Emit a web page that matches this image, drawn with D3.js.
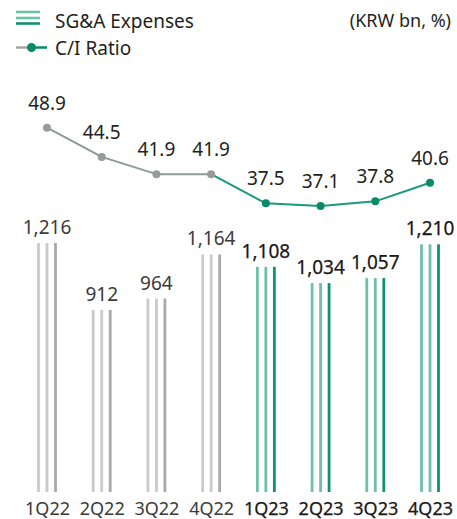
<!DOCTYPE html>
<html>
<head>
<meta charset="utf-8">
<script src="https://cdn.jsdelivr.net/npm/d3@7"></script>
<style>
  body { margin: 0; background: #fff; }
  text { font-family: "Noto Sans", sans-serif; }
</style>
</head>
<body>
<svg id="chart"></svg>
<script>
// chart data
const quarters = ["1Q22", "2Q22", "3Q22", "4Q22", "1Q23", "2Q23", "3Q23", "4Q23"];
const sgaExpenses = [1216, 912, 964, 1164, 1108, 1034, 1057, 1210];
const ciRatio = [48.9, 44.5, 41.9, 41.9, 37.5, 37.1, 37.8, 40.6];
const yearOf = ["2022", "2022", "2022", "2022", "2023", "2023", "2023", "2023"];

const dimen = { width: 457, height: 519 };

const svg = d3.select("#chart")
  .attr("width", dimen.width)
  .attr("height", dimen.height);

// x positions (band centres)
const x = d3.scalePoint()
  .domain(quarters)
  .range([47, 430]);

// bars: baseline sits at 492
const yBar = d3.scaleLinear()
  .domain([86, 1216])
  .range([492, 243]);

// line
const yLine = d3.scaleLinear()
  .domain([37.1, 48.9])
  .range([206, 127.7]);

// 2023 text is a touch heavier in the original -- fake it with a thin stroke
const palette = {
  "2022": { light: "#cacaca", dark: "#a9a9a9", text: "#3a3a3a", stroke: 0 },
  "2023": { light: "#6dc1a9", dark: "#0f9273", text: "#1a1718", stroke: 0.25 }
};

// each bar is drawn as three thin strokes
const stripes = [-8.5, 0, 8.5];
const barG = svg.append("g");
quarters.forEach((q, i) => {
  const p = palette[yearOf[i]];
  stripes.forEach((dx, k) => {
    barG.append("line")
      .attr("x1", x(q) + dx).attr("x2", x(q) + dx)
      .attr("y1", yBar(86)).attr("y2", yBar(sgaExpenses[i]))
      .attr("stroke", k === 2 ? p.dark : p.light)
      .attr("stroke-width", 2.8);
  });
});

barG.selectAll("text.val")
  .data(quarters)
  .enter().append("text")
  .attr("class", "val")
  .attr("x", d => x(d))
  .attr("y", (d, i) => yBar(sgaExpenses[i]) - 9)
  .attr("text-anchor", "middle")
  .attr("font-size", 19)
  .attr("fill", (d, i) => palette[yearOf[i]].text)
  .attr("stroke", (d, i) => palette[yearOf[i]].text)
  .attr("stroke-width", (d, i) => palette[yearOf[i]].stroke)
  .text((d, i) => d3.format(",")(sgaExpenses[i]));

// x axis labels
svg.append("g")
  .attr("transform", "translate(0,515)")
  .call(d3.axisBottom(x).tickSize(0).tickPadding(0))
  .call(g => g.select(".domain").remove())
  .call(g => g.selectAll("text")
    .attr("dy", 0)
    .attr("font-size", 18)
    .attr("font-family", "Noto Sans, sans-serif")
    .attr("fill", (d, i) => palette[yearOf[i]].text)
    .attr("stroke", (d, i) => palette[yearOf[i]].text)
    .attr("stroke-width", (d, i) => palette[yearOf[i]].stroke));

// C/I ratio line, segment colour by year of end point
const lineG = svg.append("g");
for (let i = 1; i < quarters.length; i++) {
  lineG.append("path")
    .attr("d", d3.line()([
      [x(quarters[i - 1]), yLine(ciRatio[i - 1])],
      [x(quarters[i]), yLine(ciRatio[i])]
    ]))
    .attr("fill", "none")
    .attr("stroke", yearOf[i] === "2022" ? "#8c9b94" : "#1a9a7c")
    .attr("stroke-width", 2);
}

lineG.selectAll("circle")
  .data(quarters)
  .enter().append("circle")
  .attr("cx", d => x(d))
  .attr("cy", (d, i) => yLine(ciRatio[i]))
  .attr("r", 4)
  .attr("fill", (d, i) => yearOf[i] === "2022" ? "#9a9a9a" : "#0a8a68");

lineG.selectAll("text")
  .data(quarters)
  .enter().append("text")
  .attr("x", d => x(d))
  .attr("y", (d, i) => yLine(ciRatio[i]) - 18)
  .attr("text-anchor", "middle")
  .attr("font-size", 19)
  .attr("fill", "#231f20")
  .text((d, i) => ciRatio[i].toFixed(1));

// legend
const legend = svg.append("g");
[12, 18, 23.5].forEach((ly, k) => {
  legend.append("line")
    .attr("x1", 16).attr("x2", 40)
    .attr("y1", ly).attr("y2", ly)
    .attr("stroke", k === 2 ? "#0f9273" : "#6dc1a9")
    .attr("stroke-width", 2.6);
});
legend.append("text")
  .attr("x", 55).attr("y", 28)
  .attr("font-size", 19)
  .attr("fill", "#231f20")
  .text("SG&A Expenses");

legend.append("line")
  .attr("x1", 16).attr("x2", 30).attr("y1", 47.5).attr("y2", 47.5)
  .attr("stroke", "#a5a5a5").attr("stroke-width", 2.5);
legend.append("line")
  .attr("x1", 30).attr("x2", 47).attr("y1", 47.5).attr("y2", 47.5)
  .attr("stroke", "#0a8a68").attr("stroke-width", 2.5);
legend.append("circle")
  .attr("cx", 31.5).attr("cy", 47.5).attr("r", 4.5)
  .attr("fill", "#0a8a68");
legend.append("text")
  .attr("x", 55).attr("y", 55)
  .attr("font-size", 19)
  .attr("fill", "#231f20")
  .text("C/I Ratio");

legend.append("text")
  .attr("x", 451).attr("y", 27)
  .attr("text-anchor", "end")
  .attr("font-size", 18)
  .attr("fill", "#231f20")
  .text("(KRW bn, %)");
</script>
</body>
</html>
